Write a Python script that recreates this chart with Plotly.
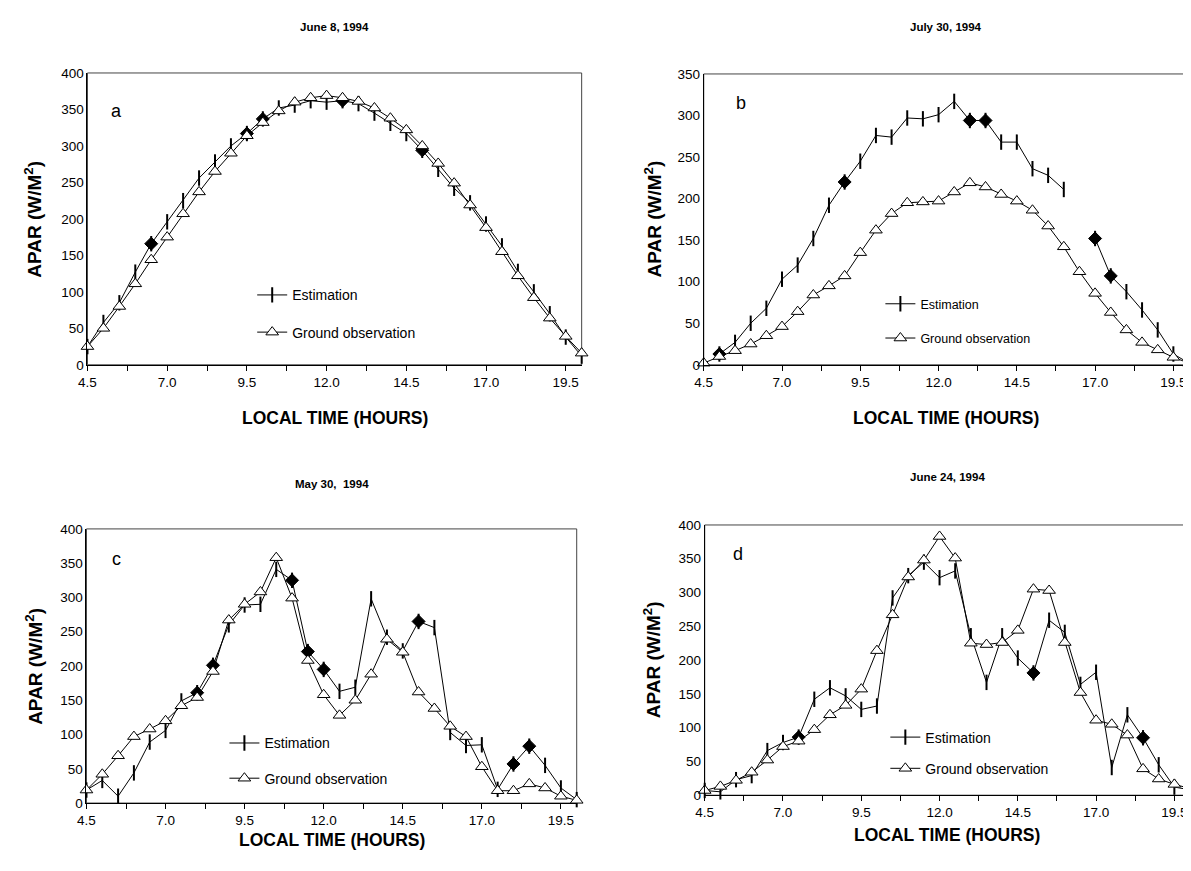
import plotly.graph_objects as go

# ---------------- data ----------------
hours = [4.5, 5.0, 5.5, 6.0, 6.5, 7.0, 7.5, 8.0, 8.5, 9.0, 9.5, 10.0, 10.5, 11.0, 11.5, 12.0,
         12.5, 13.0, 13.5, 14.0, 14.5, 15.0, 15.5, 16.0, 16.5, 17.0, 17.5, 18.0, 18.5, 19.0, 19.5, 20.0]

tick_vals = [4.5, 7.0, 9.5, 12.0, 14.5, 17.0, 19.5]
tick_text = ["4.5", "7.0", "9.5", "12.0", "14.5", "17.0", "19.5"]

# Panel a: June 8, 1994
est_a = [25, 58, 85, 127, 166, 196, 225, 256, 278, 300, 317, 337, 352, 356, 362, 360,
         362, 358, 345, 331, 317, 294, 268, 242, 222, 193, 163, 128, 100, 70, 38, 12]
obs_a = [25, 50, 80, 111, 144, 175, 207, 237, 265, 290, 314, 332, 348, 360, 366, 369,
         366, 361, 352, 338, 322, 300, 276, 249, 219, 188, 155, 122, 92, 64, 39, 16]
dia_a = [6.5, 9.5, 10.0, 12.5, 15.0]

# Panel b: July 30, 1994
est_b = [None, 13, 27, 50, 68, 103, 120, 152, 192, 220, 245, 276, 274, 297, 296, 301,
         317, 294, 294, 268, 268, 236, 228, 211, None, 152, 107, 88, 66, 42, 13, 2]
obs_b = [2, 10, 17, 25, 35, 46, 64, 84, 95, 107, 135, 162, 182, 195, 196, 197,
         208, 219, 214, 205, 197, 186, 167, 142, 112, 86, 63, 42, 27, 18, 9, 2]
dia_b = [5.0, 9.0, 13.0, 13.5, 17.0, 17.5]

# Panel c: May 30, 1994
est_c = [19, 33, 10, 44, 89, 106, 149, 161, 201, 260, 289, 290, 341, 325, 221, 195,
         163, 169, 298, 242, 222, 265, 256, 103, 84, 85, 20, 57, 83, 55, 22, 5]
obs_c = [19, 42, 69, 97, 108, 120, 142, 154, 192, 267, 290, 308, 358, 299, 208, 158,
         128, 150, 188, 239, 220, 162, 138, 112, 97, 53, 18, 18, 28, 22, 10, 4]
dia_c = [8.0, 8.5, 11.0, 11.5, 12.0, 15.0, 18.0, 18.5]

# Panel d: June 24, 1994
est_d = [7, 5, 23, 29, 66, 78, 86, 142, 159, 147, 127, 132, 292, 325, 345, 322,
         332, 236, 167, 236, 203, 181, 259, 241, 164, 182, 41, 119, 85, 45, 12, 8]
obs_d = [7, 13, 22, 34, 52, 72, 80, 97, 119, 133, 157, 214, 267, 323, 348, 383,
         351, 225, 223, 226, 244, 305, 303, 226, 152, 111, 105, 89, 39, 24, 16, 10]
dia_d = [7.5, 15.0, 18.5]

# page has an 8px body margin: the figure is placed at (8, 8) in the window
OFF = 8
W, H = 1191 - OFF, 871 - OFF
FONT = "Arial, Liberation Sans, sans-serif"


def px(x):
    return (x - OFF) / W


def py(y):
    return 1 - (y - OFF) / H


panels = [
    dict(letter="a", title="June 8, 1994", est=est_a, obs=obs_a, dia=dia_a, ymax=400,
         box=(79, 577, 67, 364), title_y=20, xtitle_y=418, ytitle_x=24,
         leg=(245, 277), leg_font=14, leg_gap=16, letter_pos=(108, 106)),
    dict(letter="b", title="July 30, 1994", est=est_b, obs=obs_b, dia=dia_b, ymax=350,
         box=(700, 1189, 68, 364), title_y=20, xtitle_y=418, ytitle_x=649,
         leg=(878, 287), leg_font=12.5, leg_gap=15, letter_pos=(738, 98)),
    dict(letter="c", title="May 30,  1994", est=est_c, obs=obs_c, dia=dia_c, ymax=400,
         box=(78, 572, 531, 810), title_y=485, xtitle_y=848, ytitle_x=25,
         leg=(217, 733), leg_font=14, leg_gap=14, letter_pos=(108, 562)),
    dict(letter="d", title="June 24, 1994", est=est_d, obs=obs_d, dia=dia_d, ymax=400,
         box=(701, 1190, 527, 802), title_y=478, xtitle_y=842, ytitle_x=648,
         leg=(883, 727), leg_font=14, leg_gap=10, letter_pos=(735, 557)),
]

fig = go.Figure()
annotations = []
shapes = []
layout_axes = {}

for i, p in enumerate(panels):
    n = i + 1
    xa = "x" if n == 1 else f"x{n}"
    ya = "y" if n == 1 else f"y{n}"
    leg_name = "legend" if n == 1 else f"legend{n}"
    x0, x1, y0, y1 = p["box"]

    fig.add_trace(go.Scatter(
        x=hours, y=p["est"], mode="lines+markers", name="Estimation",
        xaxis=xa, yaxis=ya, legend=leg_name, legendgroup=f"e{n}",
        line=dict(color="black", width=1),
        marker=dict(symbol="line-ns", size=11, color="black",
                    line=dict(color="black", width=2)),
        cliponaxis=False, connectgaps=False))
    dia_y = [p["est"][hours.index(h)] for h in p["dia"]]
    fig.add_trace(go.Scatter(
        x=p["dia"], y=dia_y, mode="markers", showlegend=False,
        xaxis=xa, yaxis=ya,
        marker=dict(symbol="diamond", size=10, color="black",
                    line=dict(color="black", width=1)),
        cliponaxis=False))
    fig.add_trace(go.Scatter(
        x=hours, y=p["obs"], mode="lines+markers", name="Ground observation",
        xaxis=xa, yaxis=ya, legend=leg_name, legendgroup=f"o{n}",
        line=dict(color="black", width=1),
        marker=dict(symbol="triangle-up", size=11, color="white",
                    line=dict(color="black", width=1)),
        cliponaxis=False))

    layout_axes["xaxis" if n == 1 else f"xaxis{n}"] = dict(
        domain=[px(x0), min(px(x1), 1.0)], anchor=ya, range=[4.5, 20.0], tickmode="array",
        tickvals=tick_vals, ticktext=tick_text, showgrid=False, zeroline=False,
        showline=True, linecolor="black", linewidth=1, ticks="outside",
        ticklen=5, tickcolor="black",
        minor=dict(tick0=5.75, dtick=2.5, ticks="outside", ticklen=5, tickcolor="black"),
        tickfont=dict(family=FONT, size=13.5, color="black"))
    layout_axes["yaxis" if n == 1 else f"yaxis{n}"] = dict(
        domain=[py(y1), py(y0)], anchor=xa, range=[0, p["ymax"]], dtick=50, tick0=0,
        showgrid=False, zeroline=False, showline=True, linecolor="black",
        linewidth=1, ticks="", tickfont=dict(family=FONT, size=13.5, color="black"))

    layout_axes[leg_name] = dict(
        x=px(p["leg"][0]), y=py(p["leg"][1]), xanchor="left", yanchor="top",
        bgcolor="rgba(0,0,0,0)", borderwidth=0, traceorder="grouped",
        tracegroupgap=p["leg_gap"], font=dict(family=FONT, size=p["leg_font"], color="black"))

    # plot-area frame (top/right)
    shapes.append(dict(type="rect", xref=f"{xa} domain", yref=f"{ya} domain",
                       x0=0, x1=1, y0=0, y1=1, line=dict(color="#444444", width=1),
                       layer="below"))

    cx = (x0 + x1) / 2
    common = dict(xref="paper", yref="paper", showarrow=False, xanchor="center", yanchor="middle")
    annotations.append(dict(text=f"<b>{p['title']}</b>", x=px(cx), y=py(p["title_y"]),
                            font=dict(family=FONT, size=11.5, color="black"), **common))
    annotations.append(dict(text="<b>LOCAL TIME (HOURS)</b>", x=px(cx), y=py(p["xtitle_y"]),
                            font=dict(family=FONT, size=17.5, color="black"), **common))
    annotations.append(dict(text="<b>APAR (W/M<sup>2</sup>)</b>", x=px(p["ytitle_x"]),
                            y=py((y0 + y1) / 2), textangle=-90,
                            font=dict(family=FONT, size=19, color="black"), **common))
    annotations.append(dict(text=p["letter"], x=px(p["letter_pos"][0]),
                            y=py(p["letter_pos"][1]),
                            font=dict(family=FONT, size=18, color="black"), **common))

fig.update_layout(
    width=W, height=H, margin=dict(l=0, r=0, t=0, b=0),
    paper_bgcolor="white", plot_bgcolor="white", showlegend=True,
    annotations=annotations, shapes=shapes, **layout_axes)

fig.write_html("out.html")
